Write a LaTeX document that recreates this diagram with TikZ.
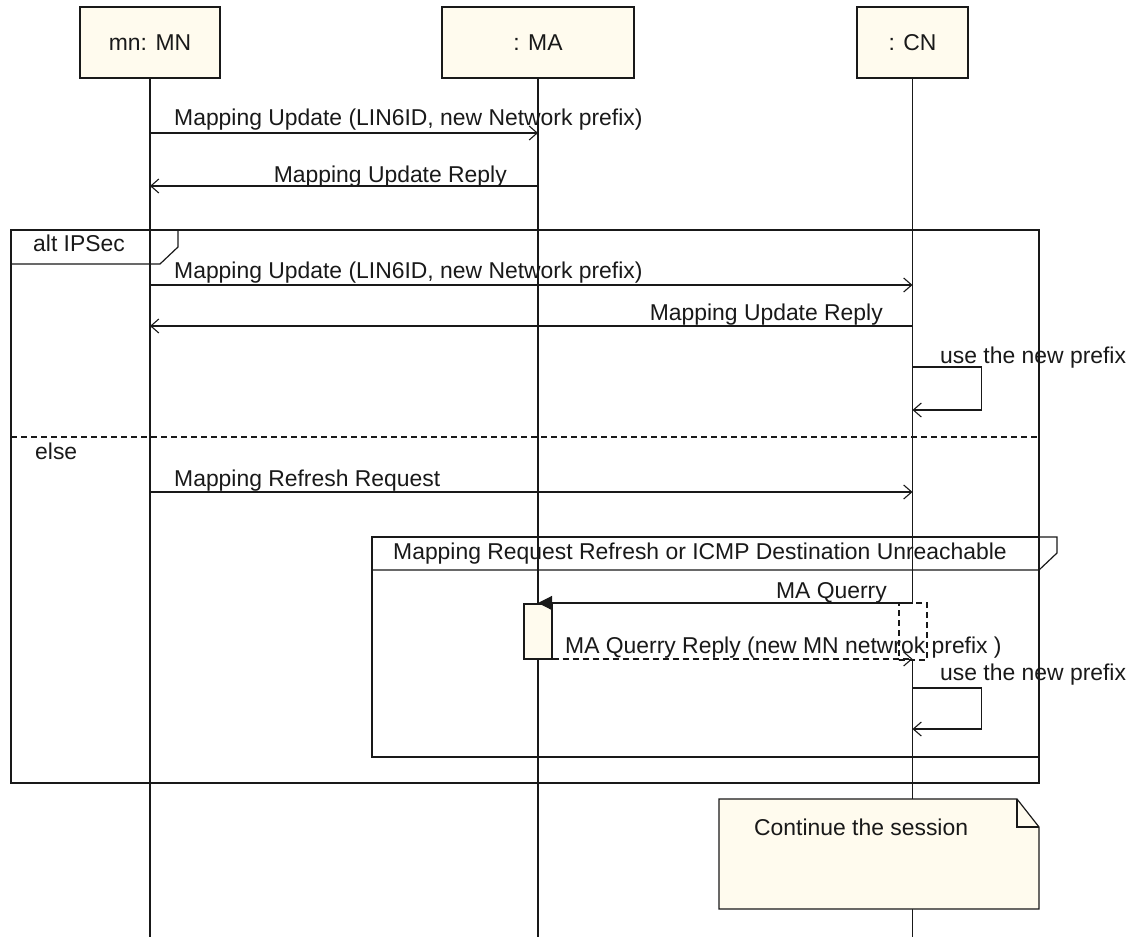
\documentclass[tikz,border=0pt]{standalone}
\usepackage{fontspec}
\setmainfont{Liberation Sans}
\usetikzlibrary{arrows.meta}
\definecolor{boxfill}{RGB}{255,251,238}
\definecolor{ink}{RGB}{25,25,25}

\begin{document}
\begin{tikzpicture}[x=1pt,y=-1pt,
  every node/.style={font=\fontsize{22.9}{27}\selectfont, text=ink},
  head/.style={draw=ink, line width=1.6pt, fill=boxfill, minimum height=71pt, inner sep=0pt},
  life/.style={draw=ink, line width=1.2pt},
  frame/.style={draw=ink, line width=1.2pt},
  lbl/.style={inner sep=0pt, text height=16pt, text depth=0pt},
  msg/.style={draw=ink, line width=1.2pt, -{Straight Barb[length=8pt,width=14pt,line width=1.1pt]}},
  reply/.style={msg, dash pattern=on 6pt off 4pt},
  call/.style={draw=ink, line width=1.2pt, -{Triangle[length=14pt,width=14pt]}},
  actbox/.style={draw=ink, line width=1.2pt, fill=boxfill, minimum width=28pt, minimum height=55pt, inner sep=0pt},
  dashbox/.style={draw=ink, line width=1.2pt, fill=white, dash pattern=on 6pt off 4pt, minimum width=28pt, minimum height=57pt, inner sep=0pt}
]
\useasboundingbox (0,0) rectangle (1133,937);

% lifeline heads
\node[head, minimum width=140pt] (mn) at (150,42.5) {mn: MN};
\node[head, minimum width=192pt] (ma) at (538,42.5) {: MA};
\node[head, minimum width=111pt] (cn) at (912.5,42.5) {: CN};

% rows used by the messages
\coordinate (bot) at (0,937);
\coordinate (r1) at (0,133);
\coordinate (r2) at (0,186);
\coordinate (r3) at (0,285);
\coordinate (r4) at (0,326);
\coordinate (s1a) at (0,367);
\coordinate (s1b) at (0,410);
\coordinate (r5) at (0,492);
\coordinate (r6) at (0,603);
\coordinate (r7) at (0,659);
\coordinate (s2a) at (0,688);
\coordinate (s2b) at (0,729);

% lifelines
\draw[life] (mn.south) -- (mn |- bot);
\draw[life] (ma.south) -- (ma |- bot);
\draw[life] (cn.south) -- (cn |- bot);

% combined fragment: alt
\draw[frame] (11,230) rectangle (1039,783);
\draw[frame] (11,264) -- (160,264) -- (178,247) -- (178,230);
\node[lbl, anchor=west] (altlbl) at (33,243) {alt IPSec};
\draw[frame, dash pattern=on 6pt off 4pt] (11,437) -- (1039,437);
\node[lbl, anchor=west] (elselbl) at (35,451) {else};

% nested fragment
\draw[frame] (372,537) rectangle (1039,757);
\draw[frame] (372,570) -- (1039,570) -- (1057,553) -- (1057,537) -- (1039,537);
\node[lbl, anchor=west] (optlbl) at (393,551) {Mapping Request Refresh or ICMP Destination Unreachable};

% messages to the mapping agent
\draw[msg] (mn |- r1) -- (ma |- r1);
\node[lbl, anchor=west] at (174,117) {Mapping Update (LIN6ID, new Network prefix)};
\draw[msg] (ma |- r2) -- (mn |- r2);
\node[lbl, anchor=east] at (507,174) {Mapping Update Reply};

% IPSec branch
\draw[msg] (mn |- r3) -- (cn |- r3);
\node[lbl, anchor=west] at (174,270) {Mapping Update (LIN6ID, new Network prefix)};
\draw[msg] (cn |- r4) -- (mn |- r4);
\node[lbl, anchor=east] at (883,312) {Mapping Update Reply};
\draw[msg] (cn |- s1a) -- ++(69,0) |- (cn |- s1b);
\node[lbl, anchor=west] at (940,355) {use the new prefix};

% else branch
\draw[msg] (mn |- r5) -- (cn |- r5);
\node[lbl, anchor=west] at (174,478) {Mapping Refresh Request};

\node[dashbox] (cnact) at (913,631.5) {};
\node[actbox] (maact) at (538,631.5) {};
\draw[call] (cn |- r6) -- (ma |- r6);
\node[lbl, anchor=east] at (887,590) {MA Querry};
\draw[reply] (maact.east |- r7) -- (cn |- r7);
\node[lbl, anchor=west] at (565,645) {MA Querry Reply (new MN netwrok prefix )};
\draw[msg] (cn |- s2a) -- ++(69,0) |- (cn |- s2b);
\node[lbl, anchor=west] at (940,672) {use the new prefix};

% note
\draw[frame, fill=boxfill] (719,799) -- (1017,799) -- (1039,827) -- (1039,909) -- (719,909) -- cycle;
\draw[frame] (1017,799) -- (1017,827) -- (1039,827);
\node[lbl, anchor=west] (note) at (754,827) {Continue the session};
\end{tikzpicture}
\end{document}
